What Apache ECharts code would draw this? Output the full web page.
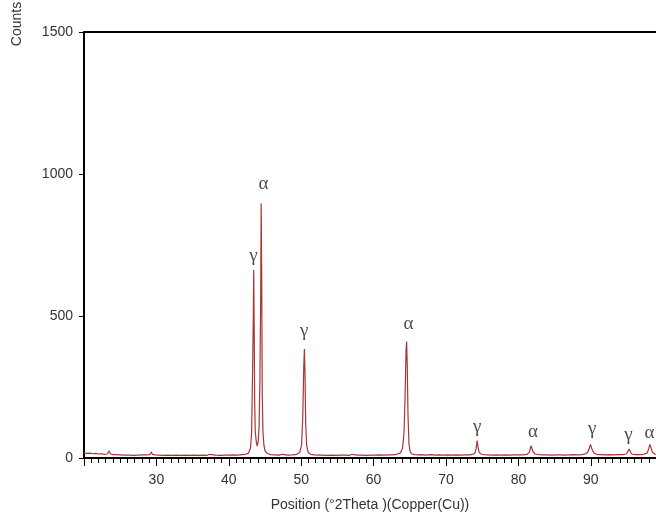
<!DOCTYPE html>
<html lang="en">
<head>
    <meta charset="UTF-8">
    <title>XRD</title>
    <script src="https://cdn.jsdelivr.net/npm/echarts@6/dist/echarts.min.js"></script>
    <style>
        *{
            margin: 0;
            padding: 0;
        }
        html,body{
            width: 100%;
            height: 100%;
            background: #fff;
        }
        .container{
            width: 656px;
            height: 517px;
        }
    </style>
</head>
<body>
<div class="container"></div>
<script>
    // measured pattern: [2theta, counts]
    const scan = [
        [20.0,18],[20.4,16],[20.8,17],[21.2,15],[21.6,16],[22.0,14],[22.4,15],[22.8,13],[23.2,14],[23.4,17],[23.5,25],[23.6,16],[23.9,12],
        [24.4,12],[25.0,11],[25.6,10],[26.2,10],[26.8,9],[27.4,10],[28.0,11],[28.6,11],[29.1,12],[29.3,21],[29.45,13],[29.8,11],
        [30.4,10],[31.0,9],[31.6,10],[32.2,9],[32.8,10],[33.4,9],[34.0,10],[34.6,9],[35.2,10],[35.8,9],[36.4,10],[37.0,9],[37.3,13],
        [37.5,9],[38.2,10],[38.8,9],[39.4,10],[40.0,10],[40.6,11],[41.2,10],[41.8,12],[42.3,13],[42.7,17],[43.0,35],
        [43.15,90],[43.28,300],[43.38,480],[43.44,662],[43.5,480],[43.57,200],[43.65,95],[43.78,60],[43.92,42],[44.05,55],
        [44.18,110],[44.3,280],[44.4,560],[44.47,897],[44.55,600],[44.62,220],[44.72,90],[44.85,45],[45.0,25],[45.3,16],
        [45.8,12],[46.4,11],[47.0,10],[47.3,13],[47.5,10],[48.2,10],[48.8,11],[49.4,13],[49.8,20],[50.05,45],[50.22,150],
        [50.35,320],[50.44,384],[50.52,300],[50.62,120],[50.75,45],[50.95,20],[51.3,13],[51.8,11],[52.4,10],[53.0,10],[53.6,9],
        [54.2,10],[54.8,9],[55.4,10],[56.0,10],[56.6,9],[57.0,13],[57.2,9],[57.8,10],[58.4,10],[59.0,9],[59.6,10],[60.2,10],
        [60.8,11],[61.4,10],[62.0,11],[62.6,11],[63.2,13],[63.7,18],[64.0,35],[64.2,90],[64.35,220],[64.48,380],[64.56,410],
        [64.64,330],[64.75,150],[64.88,50],[65.05,22],[65.3,14],[65.7,12],[66.2,11],[66.6,12],[67.0,10],[67.5,11],[68.0,12],
        [68.5,10],[69.0,11],[69.6,10],[70.2,11],[70.8,10],[71.4,11],[72.0,10],[72.6,11],[73.2,11],[73.7,13],[74.0,18],
        [74.15,32],[74.25,52],[74.3,61],[74.4,42],[74.55,22],[74.8,14],[75.2,12],[75.8,11],[76.4,10],[77.0,11],[77.6,10],
        [78.2,11],[78.8,10],[79.4,11],[80.0,11],[80.6,11],[81.2,13],[81.5,20],[81.65,34],[81.75,43],[81.85,36],[82.0,22],
        [82.3,14],[82.8,12],[83.4,11],[84.0,11],[84.6,10],[85.2,11],[85.8,11],[86.4,10],[87.0,11],[87.6,12],[88.2,11],
        [88.8,12],[89.3,15],[89.6,22],[89.8,35],[89.95,48],[90.05,44],[90.2,28],[90.45,17],[90.8,13],[91.4,12],[92.0,11],
        [92.6,12],[93.2,11],[93.8,12],[94.4,12],[94.9,14],[95.15,24],[95.3,32],[95.42,24],[95.65,14],[96.1,12],[96.7,12],
        [97.3,13],[97.8,18],[98.0,33],[98.15,48],[98.3,38],[98.5,20],[98.8,14],[99.0,13]
    ];

    // phase marks above the peaks
    const phaseNames  = ['γ', 'α', 'γ', 'α', 'γ', 'α', 'γ', 'γ', 'α'];
    const phaseAngles = [43.4, 44.8, 50.4, 64.8, 74.3, 82.0, 90.2, 95.2, 98.1];
    const phaseCounts = [711, 965, 447, 472, 109, 92, 102, 81, 88];

    const axisFont = 'Liberation Sans';

    let chart = echarts.init(document.querySelector('.container'));

    let marks = phaseNames.map((n, i) => [phaseAngles[i], phaseCounts[i], n]);

    let option = {
        backgroundColor: '#fff',
        animation: false,
        grid: {left: 84, top: 32, right: 0, bottom: 59, containLabel: false, outerBoundsMode: 'none'},
        graphic: [{
            type: 'text',
            x: 17,
            y: 24,
            rotation: Math.PI / 2,
            style: {
                text: 'Counts',
                font: '14px ' + axisFont,
                fill: '#333',
                align: 'center',
                verticalAlign: 'middle'
            }
        }],
        xAxis: [{
            type: 'value',
            min: 20,
            max: 99,
            interval: 10,
            name: 'Position (°2Theta )(Copper(Cu))',
            nameLocation: 'middle',
            nameGap: 40,
            nameTextStyle: {fontFamily: axisFont, fontSize: 14, color: '#333'},
            axisLine: {lineStyle: {color: '#000', width: 2}},
            axisTick: {length: 8, lineStyle: {color: '#000', width: 1}},
            minorTick: {show: true, splitNumber: 10, length: 5, lineStyle: {color: '#000', width: 1}},
            splitLine: {show: false},
            axisLabel: {
                fontFamily: axisFont, fontSize: 14, color: '#333', margin: 15,
                formatter: v => (v % 10 === 0 && v > 20) ? String(v) : ''
            }
        }, {
            type: 'value',
            position: 'top',
            min: 20,
            max: 99,
            axisLine: {lineStyle: {color: '#000', width: 2}},
            axisTick: {show: false},
            axisLabel: {show: false},
            splitLine: {show: false}
        }],
        yAxis: {
            type: 'value',
            min: 0,
            max: 1500,
            interval: 500,
            axisLine: {show: true, lineStyle: {color: '#000', width: 2}},
            axisTick: {show: true, length: 5, lineStyle: {color: '#000', width: 1}},
            splitLine: {show: false},
            axisLabel: {fontFamily: axisFont, fontSize: 14, color: '#333', margin: 11, formatter: v => String(v)}
        },
        series: [{
            type: 'line',
            data: scan,
            showSymbol: false,
            symbol: 'none',
            lineStyle: {color: '#a93636', width: 1.2},
            z: 2
        }, {
            type: 'scatter',
            data: marks,
            symbolSize: 1,
            itemStyle: {color: 'transparent'},
            label: {
                show: true,
                position: 'inside',
                formatter: p => p.data[2],
                fontFamily: 'Liberation Serif',
                fontSize: 19,
                color: '#222'
            },
            z: 3
        }]
    };
    chart.setOption(option);
</script>
</body>
</html>
